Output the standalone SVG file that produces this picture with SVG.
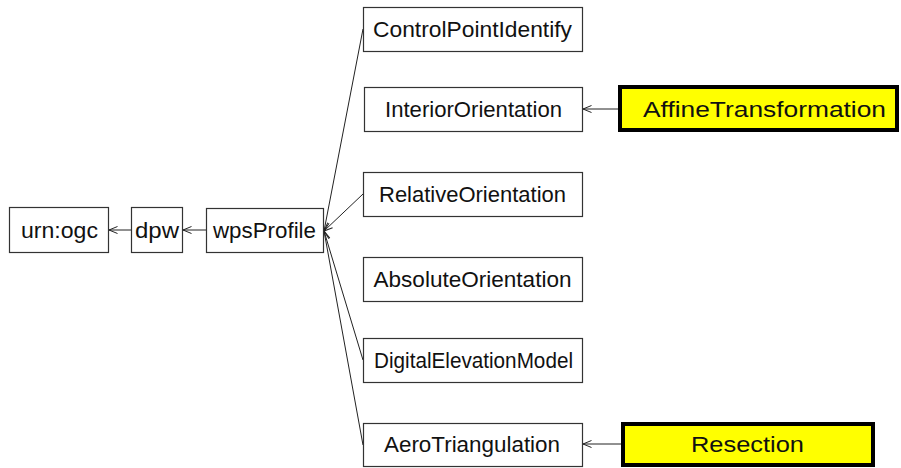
<svg xmlns="http://www.w3.org/2000/svg" width="901" height="468" viewBox="0 0 901 468">
  <defs>
    <!-- open chevron arrowhead, tip at the line end -->
    <marker id="open" markerWidth="12" markerHeight="10" refX="9" refY="5" orient="auto" markerUnits="userSpaceOnUse">
      <path d="M0.5,1.5 L9,5 L0.5,8.5" fill="none" stroke="#222" stroke-width="1"/>
    </marker>
    <style>
      .box { fill: #ffffff; stroke: #333333; stroke-width: 1.2; }
      .hl { fill: #ffff00; stroke: #000000; stroke-width: 4; }
      .lbl { font-family: "Liberation Sans", Arial, sans-serif; font-size: 22px; fill: #111111; text-anchor: middle; }
      .edge { fill: none; stroke: #222222; stroke-width: 1; marker-end: url(#open); }
    </style>
  </defs>
  <rect width="901" height="468" fill="#ffffff"/>

  <g id="connectors">
    <line class="edge" x1="131" y1="230" x2="109" y2="230"/>
    <line class="edge" x1="206" y1="230" x2="183" y2="230"/>
    <line class="edge" x1="363" y1="29" x2="324" y2="231"/>
    <line class="edge" x1="363" y1="194" x2="324" y2="231"/>
    <line class="edge" x1="363" y1="360" x2="324" y2="231"/>
    <line class="edge" x1="363" y1="445" x2="324" y2="231"/>
    <line class="edge" x1="618" y1="109" x2="583" y2="109"/>
    <line class="edge" x1="621" y1="444" x2="583" y2="444"/>
  </g>

  <g id="urn-ogc">
    <rect class="box" x="9.5" y="207.5" width="99" height="45"/>
    <text class="lbl" x="59.5" y="238" textLength="77" lengthAdjust="spacingAndGlyphs">urn:ogc</text>
  </g>
  <g id="dpw">
    <rect class="box" x="131.5" y="207.5" width="51" height="45"/>
    <text class="lbl" x="157" y="238" textLength="44" lengthAdjust="spacingAndGlyphs">dpw</text>
  </g>
  <g id="wpsProfile">
    <rect class="box" x="206.5" y="208.5" width="117" height="44"/>
    <text class="lbl" x="264.5" y="238" textLength="103" lengthAdjust="spacingAndGlyphs">wpsProfile</text>
  </g>

  <g id="ControlPointIdentify">
    <rect class="box" x="363.5" y="7.5" width="219" height="44"/>
    <text class="lbl" x="472.5" y="37" textLength="199" lengthAdjust="spacingAndGlyphs">ControlPointIdentify</text>
  </g>
  <g id="InteriorOrientation">
    <rect class="box" x="364.5" y="87.5" width="218" height="44"/>
    <text class="lbl" x="473.5" y="117" textLength="177" lengthAdjust="spacingAndGlyphs">InteriorOrientation</text>
  </g>
  <g id="RelativeOrientation">
    <rect class="box" x="363.5" y="172.5" width="219" height="44"/>
    <text class="lbl" x="472.5" y="202" textLength="187" lengthAdjust="spacingAndGlyphs">RelativeOrientation</text>
  </g>
  <g id="AbsoluteOrientation">
    <rect class="box" x="363.5" y="257.5" width="219" height="44"/>
    <text class="lbl" x="472.5" y="287" textLength="198" lengthAdjust="spacingAndGlyphs">AbsoluteOrientation</text>
  </g>
  <g id="DigitalElevationModel">
    <rect class="box" x="363.5" y="338.5" width="219" height="44"/>
    <text class="lbl" x="473.5" y="368" textLength="199" lengthAdjust="spacingAndGlyphs">DigitalElevationModel</text>
  </g>
  <g id="AeroTriangulation">
    <rect class="box" x="363.5" y="423.5" width="219" height="43"/>
    <text class="lbl" x="472" y="452" textLength="176" lengthAdjust="spacingAndGlyphs">AeroTriangulation</text>
  </g>

  <g id="AffineTransformation">
    <rect class="hl" x="620" y="87" width="277" height="43"/>
    <text class="lbl" x="764.5" y="117" textLength="243" lengthAdjust="spacingAndGlyphs" fill="#222200">AffineTransformation</text>
  </g>
  <g id="Resection">
    <rect class="hl" x="623" y="424" width="250" height="41"/>
    <text class="lbl" x="747.5" y="452" textLength="113" lengthAdjust="spacingAndGlyphs">Resection</text>
  </g>
</svg>
